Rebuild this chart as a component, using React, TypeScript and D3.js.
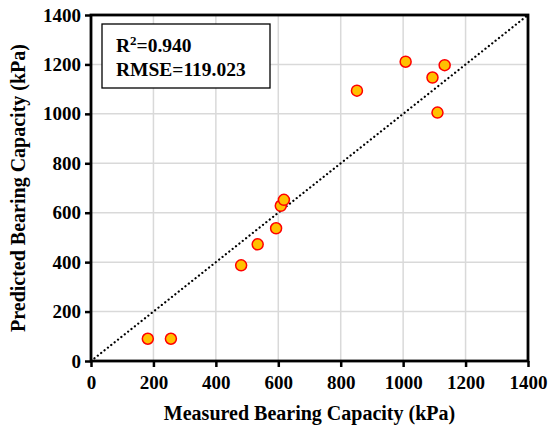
import * as d3 from "d3";
import React, {useEffect, useRef} from "react";

// measured vs predicted bearing capacity (kPa)
const measured = [182, 256, 481, 534, 593, 608, 618, 852, 1008, 1094, 1110, 1133];
const predicted = [90, 90, 387, 472, 537, 628, 652, 1094, 1211, 1147, 1005, 1197];
const ticks = [0, 200, 400, 600, 800, 1000, 1200, 1400];
const statLines = ["R", "RMSE=119.023"];

const App = () => {
    const width = 548
    const height = 428
    const margin = {top: 15, right: 20, bottom: 67, left: 91}
    const font = "Liberation Serif"

    const ref = useRef<SVGSVGElement>(null);

    useEffect(() => {
        const svg = d3.select(ref.current);
        svg.selectAll("*").remove();

        const x = d3.scaleLinear().domain([0, 1400]).range([margin.left, width - margin.right]);
        const y = d3.scaleLinear().domain([0, 1400]).range([height - margin.bottom, margin.top]);

        // grid
        const grid = svg.append("g").attr("stroke", "#d9d9d9").attr("stroke-width", 1.5);
        grid.selectAll("line.v").data(ticks.slice(1, -1)).join("line")
            .attr("class", "v")
            .attr("x1", d => x(d)).attr("x2", d => x(d))
            .attr("y1", y(0)).attr("y2", y(1400));
        grid.selectAll("line.h").data(ticks.slice(1, -1)).join("line")
            .attr("class", "h")
            .attr("y1", d => y(d)).attr("y2", d => y(d))
            .attr("x1", x(0)).attr("x2", x(1400));

        // 1:1 line
        svg.append("line")
            .attr("x1", x(0)).attr("y1", y(0))
            .attr("x2", x(1400)).attr("y2", y(1400))
            .attr("stroke", "#000")
            .attr("stroke-width", 2.2)
            .attr("stroke-linecap", "round")
            .attr("stroke-dasharray", "0.1 4.2");

        // frame
        svg.append("rect")
            .attr("x", x(0)).attr("y", y(1400))
            .attr("width", x(1400) - x(0)).attr("height", y(0) - y(1400))
            .attr("fill", "none").attr("stroke", "#000").attr("stroke-width", 2.8);

        const xAxis = svg.append("g")
            .attr("transform", `translate(0,${y(0)})`)
            .call(d3.axisBottom(x).tickValues(ticks).tickFormat(d3.format("d")).tickSize(6).tickSizeOuter(0).tickPadding(6));
        const yAxis = svg.append("g")
            .attr("transform", `translate(${x(0)},0)`)
            .call(d3.axisLeft(y).tickValues(ticks).tickFormat(d3.format("d")).tickSize(6).tickSizeOuter(0).tickPadding(4));

        [xAxis, yAxis].forEach(g => {
            g.attr("font-family", font).attr("font-size", 19).attr("font-weight", "bold");
            g.select(".domain").remove();
            g.selectAll("line").attr("stroke", "#000").attr("stroke-width", 2.5);
            g.selectAll("text").attr("fill", "#000");
        });
        xAxis.selectAll("text").attr("dy", "0.85em");

        // points
        svg.append("g")
            .selectAll("circle")
            .data(measured.map((m, i) => [m, predicted[i]]))
            .join("circle")
            .attr("cx", d => x(d[0]))
            .attr("cy", d => y(d[1]))
            .attr("r", 5.5)
            .attr("fill", "#ffc000")
            .attr("stroke", "#ff0000")
            .attr("stroke-width", 1.5);

        // stats box
        svg.append("rect")
            .attr("x", 102).attr("y", 24)
            .attr("width", 168).attr("height", 64)
            .attr("fill", "#fff").attr("stroke", "#000").attr("stroke-width", 1.3);

        const stat = svg.append("g")
            .attr("font-family", font).attr("font-weight", "bold").attr("font-size", 19.5);
        const t1 = stat.append("text").attr("x", 116).attr("y", 52);
        t1.append("tspan").text(statLines[0]);
        t1.append("tspan").attr("dy", -7).attr("font-size", 13).text("2");
        t1.append("tspan").attr("dy", 7).text("=0.940");
        stat.append("text").attr("x", 116).attr("y", 76).text(statLines[1]);

        // titles
        const titles = svg.append("g")
            .attr("font-family", font).attr("font-weight", "bold").attr("font-size", 20)
            .attr("text-anchor", "middle");
        titles.append("text")
            .attr("x", (x(0) + x(1400)) / 2).attr("y", 420)
            .text("Measured Bearing Capacity (kPa)");
        titles.append("text")
            .attr("transform", `translate(25,${(y(0) + y(1400)) / 2}) rotate(-90)`)
            .text("Predicted Bearing Capacity (kPa)");
    }, []);

    return (
        <svg ref={ref} width={width} height={height}
             style={{position: "absolute", left: 0, top: 0, background: "#fff"}}/>
    )
}

export default App;
